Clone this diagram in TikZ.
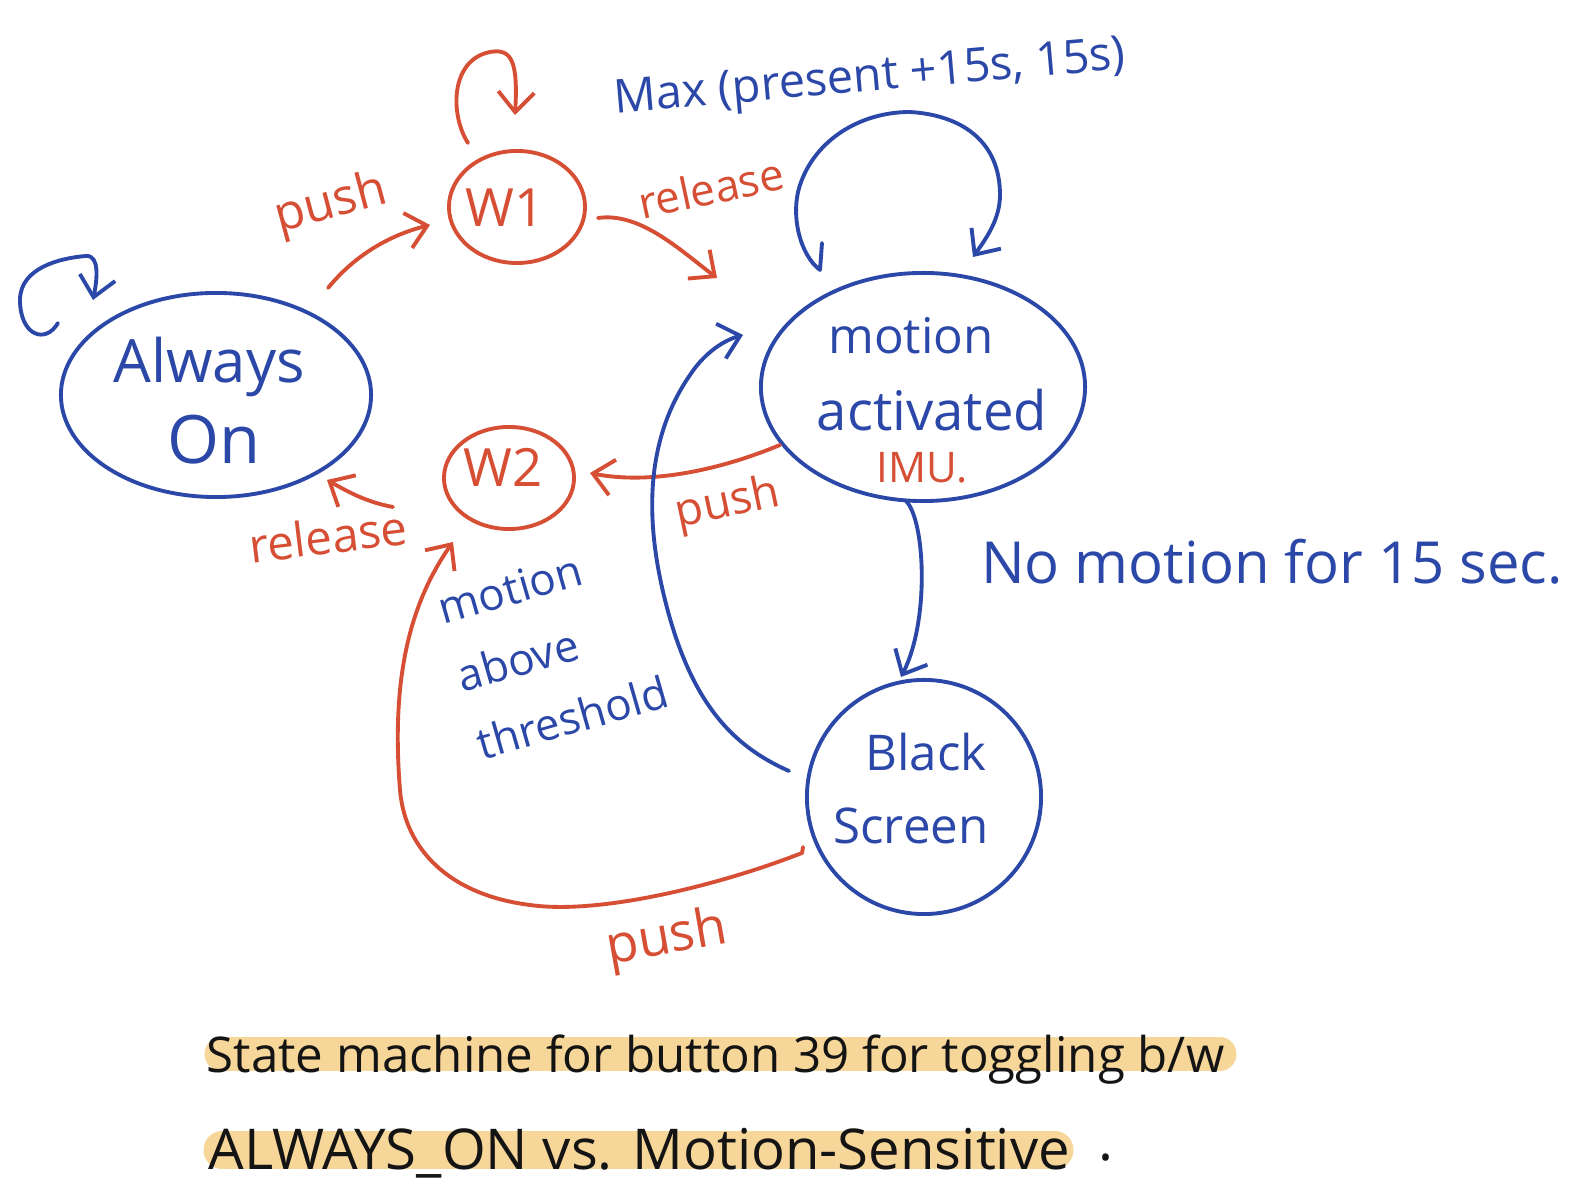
\documentclass[tikz,border=0pt]{standalone}
\usepackage{fontspec}
\setmainfont{Open Sans}
\usetikzlibrary{shapes.geometric,arrows.meta,calc}
\definecolor{inkblue}{RGB}{43,72,168}
\definecolor{inkred}{RGB}{214,78,52}
\definecolor{hlcolor}{RGB}{246,214,153}
\definecolor{inkblack}{RGB}{20,20,20}
\begin{document}
\begin{tikzpicture}[x=0.01cm,y=-0.01cm,
  stateline/.style={draw,line width=1.1pt,inner sep=0pt,outer sep=0pt},
  bluestate/.style={stateline,inkblue,ellipse},
  redstate/.style={stateline,inkred,ellipse},
  conn/.style={line width=1.1pt,line cap=round,line join=round,-{Straight Barb[length=2mm,width=3.6mm]}},
  blueconn/.style={conn,inkblue},
  redconn/.style={conn,inkred},
  bluetext/.style={text=inkblue,inner sep=0pt,font=\fontsize{#1pt}{#1pt}\selectfont},
  redtext/.style={text=inkred,inner sep=0pt,font=\fontsize{#1pt}{#1pt}\selectfont},
  blacktext/.style={text=inkblack,inner sep=0pt,font=\fontsize{#1pt}{#1pt}\selectfont},
  hlbar/.style={draw=hlcolor,line cap=round}
]
\fill[white] (0,0) rectangle (1596,1195);
\useasboundingbox (0,0) rectangle (1596,1195);

% states
\node[bluestate,minimum width=3.10cm,minimum height=2.04cm] (aon) at (216,395) {};
\node[redstate,minimum width=1.36cm,minimum height=1.12cm] (w1) at (517,207) {};
\node[bluestate,minimum width=3.24cm,minimum height=2.28cm] (ma) at (923,387) {};
\node[redstate,minimum width=1.30cm,minimum height=1.02cm] (w2) at (509,478) {};
\node[stateline,inkblue,circle,minimum size=2.34cm] (bs) at (924,797) {};

% state texts
\node[bluetext=17] (aonA) at (209,367) {Always};
\node[bluetext=19] (aonB) at (214,440) {On};
\node[redtext=15] (w1t) at (505,208) {W1};
\node[redtext=15] (w2t) at (503,467) {W2};
\node[bluetext=14] (maA) at (911,336) {motion};
\node[bluetext=15.5] (maB) at (932,410) {activated};
\node[redtext=12] (imu) at (922,468) {IMU.};
\node[bluetext=14] (bsA) at (926,752) {Black};
\node[bluetext=14] (bsB) at (911,826) {Screen};

% connectors
\draw[blueconn] ($(aon.center)+(-158,-72)$) .. controls (45,345) and (20,335) .. (20,300)
  .. controls (20,268) and (60,258) .. (86,256) .. controls (100,255) and (97,280) .. ($(aon.center)+(-123,-95)$);
\draw[redconn] ($(w1.center)+(-49,-64)$) .. controls (450,115) and (450,60) .. (490,52)
  .. controls (512,48) and (518,62) .. ($(w1.center)+(-2,-92)$);
\draw[redconn] ($(aon.center)+(112,-107)$) .. controls (355,255) and (390,235) .. ($(w1.center)+(-87,18)$);
\draw[redconn] ($(w1.center)+(81,11)$) .. controls (640,212) and (680,250) .. ($(ma.center)+(-206,-109)$);
\draw[blueconn] ($(ma.center)+(-101,-144)$) -- (820,270) .. controls (800,255) and (790,215) .. (800,185)
  .. controls (815,140) and (860,112) .. (910,112) .. controls (960,115) and (1000,140) .. (1000,195)
  .. controls (1000,220) and (985,240) .. ($(ma.center)+(50,-130)$);
\draw[redconn] ($(ma.center)+(-143,58)$) .. controls (720,470) and (650,485) .. ($(w2.center)+(81,-5)$);
\draw[redconn] ($(w2.center)+(-116,29)$) .. controls (365,502) and (345,490) .. ($(aon.center)+(111,85)$);
\draw[blueconn] ($(ma.center)+(-17,114)$) .. controls (925,520) and (930,620) .. ($(bs.center)+(-23,-120)$);
\draw[blueconn] ($(bs.center)+(-135,-26)$) .. controls (730,745) and (690,700) .. (665,600)
  .. controls (645,520) and (645,440) .. (690,375) .. controls (705,352) and (725,340) .. ($(ma.center)+(-180,-52)$);
\draw[redconn] ($(bs.center)+(-121,50)$) -- (802,853) .. controls (720,885) and (600,915) .. (530,905)
  .. controls (450,895) and (405,850) .. (400,790) .. controls (392,690) and (405,610) .. ($(w2.center)+(-56,64)$);

% edge labels
\node[bluetext=13.3,rotate=5] (tmax) at (870,80) {Max (present +15s, 15s)};
\node[redtext=14,rotate=15] (tpush1) at (331,205) {push};
\node[redtext=12.5,rotate=12] (trel1) at (711,188) {release};
\node[redtext=13,rotate=12] (tpush2) at (728,505) {push};
\node[redtext=13.5,rotate=7] (trel2) at (328,536) {release};
\node[text=inkblue,inner sep=0pt,align=left,rotate=16,
  font=\fontsize{12.5pt}{20pt}\selectfont] (tmat) at (553,650) {motion\\above\\threshold};
\node[bluetext=16.5] (tnomo) at (1272,562) {No motion for 15 sec.};
\node[redtext=15,rotate=10] (tpush3) at (667,940) {push};

% caption
\draw[hlbar,line width=0.33cm] (221,1054) -- (1220,1054);
\draw[hlbar,line width=0.37cm] (222,1150) -- (1055,1150);
\node[blacktext=14,anchor=west] (cap1) at (206,1060) {State machine for button 39 for toggling b/w};
\node[blacktext=16,anchor=west] (cap2) at (208,1153) {ALWAYS\_ON vs. Motion-Sensitive};
\node[blacktext=16] (cap2dot) at (1106,1158) {.};
\end{tikzpicture}
\end{document}
